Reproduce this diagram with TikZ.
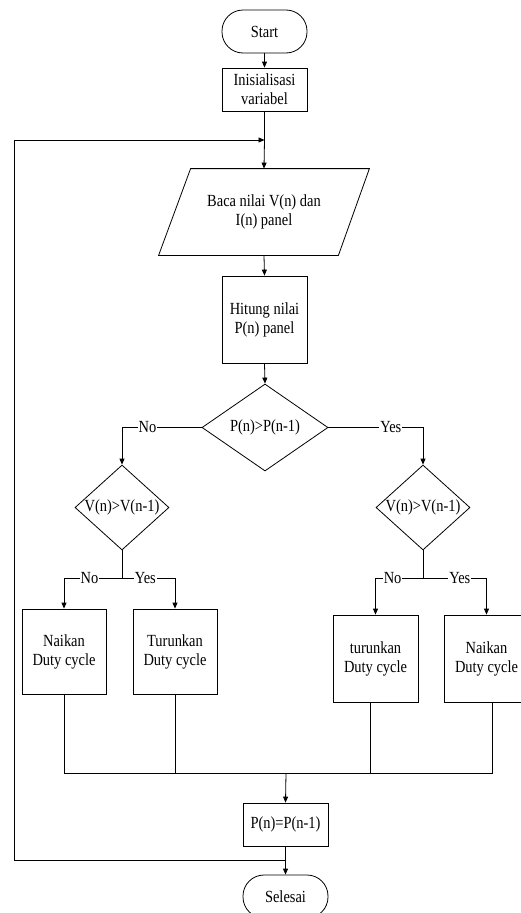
\documentclass[tikz,border=0pt]{standalone}
\usepackage{fontspec}
\setmainfont{Liberation Serif}[FakeStretch=0.85]
\usetikzlibrary{shapes.geometric,arrows.meta,calc}
\begin{document}
\begin{tikzpicture}[x=1pt,y=-1pt,
  font=\fontsize{17}{19}\selectfont,
  line width=0.8pt,
  base/.style={draw, rectangle, inner sep=0pt, align=center, minimum width=85pt},
  term/.style={base, rounded corners=21pt, minimum height=43pt},
  proc/.style={base, minimum height=43pt},
  tall/.style={base, minimum height=87pt},
  dec/.style={draw, diamond, inner sep=0pt},
  arr/.style={-{Triangle[length=6pt,width=5pt]}},
  lab/.style={fill=white, inner sep=1pt}]
\useasboundingbox (0,0) rectangle (521,913);

% nodes
\node[term] (start) at (264.5,31.5) {Start};
\node[proc] (init) at (264.5,89.5) {Inisialisasi\\variabel};
\coordinate (j) at (264.5,140);
\node[rectangle, inner sep=0pt, minimum width=210pt, minimum height=86pt, align=center] (read) at (264,212) {Baca nilai V(n) dan\\I(n) panel};
\draw ($(read.north west)+(32,0)$) -- (read.north east) -- ($(read.south east)+(-31,0)$) -- (read.south west) -- cycle;
\node[tall] (hit) at (264.5,319.5) {Hitung nilai\\P(n) panel};
\node[dec, minimum width=126pt, minimum height=87pt, label=center:{P(n)>P(n-1)}] (d1) at (265,427.5) {};
\node[dec, minimum width=94pt, minimum height=85pt, label=center:{V(n)>V(n-1)}] (d2) at (122,507.5) {};
\node[dec, minimum width=94pt, minimum height=85pt, label=center:{V(n)>V(n-1)}] (d3) at (423,507.5) {};
\coordinate (c2) at (122,578);
\coordinate (c3) at (423,578);
\node[base, minimum width=84pt, minimum height=85pt] (n1) at (64,651.5) {Naikan\\Duty cycle};
\node[base, minimum width=84pt, minimum height=85pt] (n2) at (175,651.5) {Turunkan\\Duty cycle};
\node[tall] (n3) at (375.5,658.5) {turunkan\\Duty cycle};
\node[tall] (n4) at (486.5,658.5) {Naikan\\Duty cycle};
\coordinate (m) at (286,773);
\node[proc] (pp) at (285.5,824.5) {P(n)=P(n-1)};
\node[term] (end) at (285.5,896.5) {Selesai};
\coordinate (lp) at (286,860);
\coordinate (lt) at (14,140);

% connectors
\draw[arr] (start) -- (init);
\draw (init.south) -- (j);
\draw[arr] (j) -- (read.north);
\draw[arr] (read.south) -- (hit.north);
\draw[arr] (hit.south) -- (d1.north);
\draw[arr] (d1.west) -| node[lab, pos=0.34] {No} (d2.north);
\draw[arr] (d1.east) -| node[lab, pos=0.33] {Yes} (d3.north);
\draw (d2.south) -- (c2);
\draw (d3.south) -- (c3);
\draw[arr] (c2) -| node[lab, pos=0.28] {No} (n1.north);
\draw[arr] (c2) -| node[lab, pos=0.22] {Yes} (n2.north);
\draw[arr] (c3) -| node[lab, pos=0.32] {No} (n3.north);
\draw[arr] (c3) -| node[lab, pos=0.29] {Yes} (n4.north);
\draw (n1.south) |- (m);
\draw (n2.south) |- (m);
\draw ($(n3.south)+(-5,0)$) |- (m);
\draw ($(n4.south)+(5.5,0)$) |- (m);
\draw[arr] (m) -- (pp.north);
\draw[arr] (pp.south) -- (end.north);
\draw[arr] (lp) -| (lt) -- (j);
\end{tikzpicture}
\end{document}
